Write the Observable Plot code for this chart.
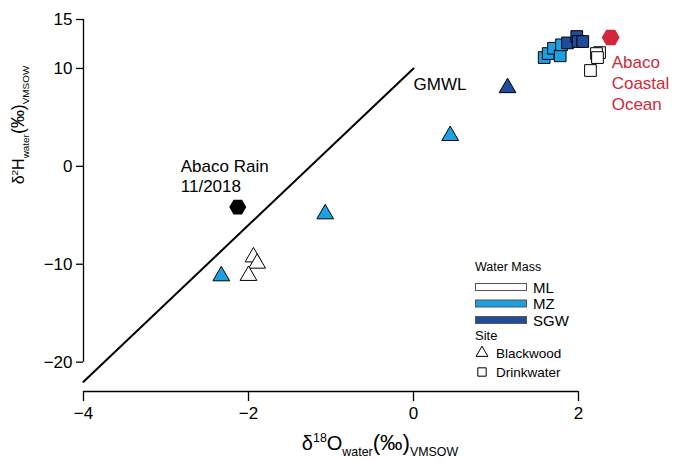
<!DOCTYPE html>
<html>
<head>
<meta charset="utf-8">
<script src="https://cdn.jsdelivr.net/npm/d3@7"></script>
<script src="https://cdn.jsdelivr.net/npm/@observablehq/plot@0.6"></script>
<style>
  body { margin: 0; background: #fff; }
  #chart { position: relative; width: 673px; height: 461px; font-family: Arial, "Liberation Sans", sans-serif; }
</style>
</head>
<body>
<div id="chart"></div>
<script>
// Blackwood samples (triangles): δ18O, δ2H (‰ VSMOW) and water mass
const blackwoodO    = [-1.94, -1.895, -2.00, -2.33, -1.07, 0.445, 1.14];
const blackwoodH    = [-9.27, -9.91, -11.16, -11.20, -4.87, 3.13, 8.02];
const blackwoodMass = ["ML", "ML", "ML", "MZ", "MZ", "MZ", "SGW"];

// Drinkwater samples (squares)
const drinkwaterO    = [1.584, 1.633, 1.697, 1.778, 1.794, 1.867, 1.979, 1.996, 2.052, 2.255, 2.218, 2.23, 2.145];
const drinkwaterH    = [11.11, 11.52, 12.06, 11.29, 12.41, 12.61, 13.26, 12.75, 12.75, 11.62, 11.52, 11.11, 9.79];
const drinkwaterMass = ["MZ", "MZ", "MZ", "MZ", "MZ", "SGW", "SGW", "SGW", "SGW", "ML", "ML", "ML", "ML"];

// End-members
const rainO  = [-2.13];
const rainH  = [-4.16];
const oceanO = [2.39];
const oceanH = [13.16];

// Global Meteoric Water Line end points
const gmwlO = [-4, 0];
const gmwlH = [-22, 10];

// Axes
const xTicks  = [-4, -2, 0, 2];
const yTicks  = [15, 10, 0, -10, -20];
const yBottom = -23;

// Labels
const rainLabel  = "Abaco Rain\n11/2018";
const oceanLabel = "Abaco\nCoastal\nOcean";
const gmwlLabel  = "GMWL";
const massNames  = ["ML", "MZ", "SGW"];
const massColors = ["#ffffff", "#1ba1e2", "#1f4c9b"];
const siteNames  = ["Blackwood", "Drinkwater"];
const siteSymbols = ["triangle", "square"];
const legendMassTitle = "Water Mass";
const legendSiteTitle = "Site";
const xLabelParts = [{t: "δ"}, {t: "18", k: "sup"}, {t: "O"}, {t: "water", k: "sub"}, {t: "(‰)", k: "big"}, {t: "VMSOW", k: "sub"}];
const yLabelParts = [{t: "δ"}, {t: "2", k: "sup"}, {t: "H"}, {t: "water", k: "sub"}, {t: "(‰)", k: "big"}, {t: "VMSOW", k: "sub"}];

const oceanRed = "#d0283a";

const blackwood = blackwoodO.map((o, i) => ({o, h: blackwoodH[i], mass: blackwoodMass[i]}));
const drinkwater = drinkwaterO.map((o, i) => ({o, h: drinkwaterH[i], mass: drinkwaterMass[i]}));
const rain = rainO.map((o, i) => ({o, h: rainH[i]}));
const ocean = oceanO.map((o, i) => ({o, h: oceanH[i]}));
const gmwl = gmwlO.map((o, i) => ({o, h: gmwlH[i]}));

const font = "Arial, 'Liberation Sans', sans-serif";

const chart = Plot.plot({
  width: 673,
  height: 461,
  marginLeft: 83,
  marginRight: 95,
  marginTop: 19,
  marginBottom: 70,
  style: {fontFamily: font, fontSize: "17px", color: "#000", background: "#fff", overflow: "visible"},
  x: {domain: [xTicks[0], xTicks[xTicks.length - 1]]},
  y: {domain: [yBottom, yTicks[0]]},
  color: {domain: massNames, range: massColors},
  marks: [
    // axis lines
    Plot.ruleX([xTicks[0]], {y1: yTicks[yTicks.length - 1], y2: yTicks[0], stroke: "#000", strokeWidth: 1.3}),
    Plot.ruleY([yBottom], {x1: xTicks[0], x2: xTicks[xTicks.length - 1], stroke: "#000", strokeWidth: 1.3}),
    Plot.axisX({ticks: xTicks, tickFormat: "d", tickSize: 10, tickPadding: 5, label: null, fontSize: 17, strokeWidth: 1.3}),
    Plot.axisY({ticks: yTicks, tickFormat: "d", tickSize: 7, tickPadding: 4, label: null, fontSize: 17, strokeWidth: 1.3}),
    // GMWL
    Plot.line(gmwl, {x: "o", y: "h", stroke: "#000", strokeWidth: 2}),
    Plot.text(gmwl.slice(-1), {x: "o", y: "h", text: () => gmwlLabel, textAnchor: "start", lineAnchor: "top", dx: 0, dy: 9, fontSize: 17}),
    // samples
    Plot.dot(blackwood, {x: "o", y: "h", fill: "mass", symbol: siteSymbols[0], r: 6.2, stroke: "#000", strokeWidth: 1}),
    Plot.dot(drinkwater, {x: "o", y: "h", fill: "mass", symbol: siteSymbols[1], r: 6.6, stroke: "#000", strokeWidth: 1}),
    // end-members
    Plot.dot(rain, {x: "o", y: "h", symbol: "hexagon", r: 6.6, rotate: 90, fill: "#000", stroke: "#000"}),
    Plot.text(rain, {x: "o", y: "h", text: () => rainLabel, textAnchor: "start", lineAnchor: "bottom", dx: -57, dy: -15, fontSize: 17, lineHeight: 1.2}),
    Plot.dot(ocean, {x: "o", y: "h", symbol: "hexagon", r: 7, rotate: 90, fill: oceanRed, stroke: oceanRed}),
    Plot.text(ocean, {x: "o", y: "h", text: () => oceanLabel, textAnchor: "start", lineAnchor: "top", dx: 1, dy: 15, fontSize: 17, lineHeight: 1.25, fill: oceanRed})
  ]
});

document.getElementById("chart").appendChild(chart);

const svg = d3.select(chart);

// Axis titles with sub- and superscripts
function richLabel(text, parts, size) {
  let shift = 0;
  for (const p of parts) {
    const target = p.k === "sup" ? -0.4 * size : p.k === "sub" ? 0.32 * size : 0;
    const fs = p.k === "sup" || p.k === "sub" ? size * 0.62 : p.k === "big" ? size * 1.12 : size;
    text.append("tspan").attr("dy", target - shift).style("font-size", fs + "px").text(p.t);
    shift = target;
  }
}
const xl = svg.append("text").attr("x", 380).attr("y", 450).attr("text-anchor", "middle").style("font-family", font);
richLabel(xl, xLabelParts, 20);
const yl = svg.append("text").attr("transform", "translate(24,125) rotate(-90)").attr("text-anchor", "middle").style("font-family", font);
richLabel(yl, yLabelParts, 16);

// Legend
const lg = svg.append("g").attr("text-anchor", "start").style("font-family", font);
lg.append("text").attr("x", 475).attr("y", 271).style("font-size", "12.5px").text(legendMassTitle);
massNames.forEach((m, i) => {
  const cy = 287 + i * 16.5;
  lg.append("rect").attr("x", 475.5).attr("y", cy - 3.5).attr("width", 51).attr("height", 7)
    .attr("fill", massColors[i]).attr("stroke", "#555").attr("stroke-width", 1);
  lg.append("text").attr("x", 533).attr("y", cy + 5.5).style("font-size", "15px").text(m);
});
lg.append("text").attr("x", 475).attr("y", 340).style("font-size", "13px").text(legendSiteTitle);
const symSize = [60, 70];
siteNames.forEach((s, i) => {
  const cy = 353 + i * 19;
  const sym = i === 0 ? d3.symbolTriangle : d3.symbolSquare;
  lg.append("path").attr("d", d3.symbol(sym, symSize[i])()).attr("transform", `translate(482,${cy})`)
    .attr("fill", "#fff").attr("stroke", "#000").attr("stroke-width", 1);
  lg.append("text").attr("x", 496).attr("y", cy + 4.5).style("font-size", "13.5px").text(s);
});
</script>
</body>
</html>
